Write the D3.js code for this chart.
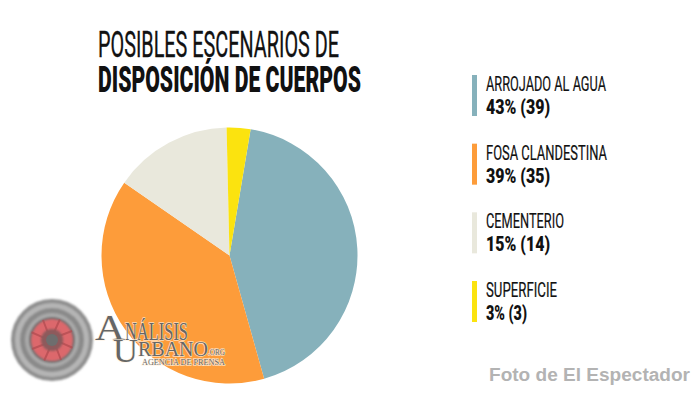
<!DOCTYPE html>
<html><head><meta charset="utf-8">
<script src="https://cdn.jsdelivr.net/npm/d3@7"></script>
<style>html,body{margin:0;background:#fff}svg{display:block}</style></head><body>
<svg id="c" width="700" height="393"></svg>
<script>
const categories=["ARROJADO AL AGUA","FOSA CLANDESTINA","CEMENTERIO","SUPERFICIE"];
const percents=[43,39,15,3];
const valueLabels=["43% (39)","39% (35)","15% (14)","3% (3)"];
const colors=["#86b1bb","#fd9c3a","#e9e8dc","#fbe30f"];
const titleLines=["POSIBLES ESCENARIOS DE","DISPOSICIÓN DE CUERPOS"];
const credit="Foto de El Espectador";

const svg=d3.select("#c");
const font="Roboto, 'Liberation Sans', sans-serif";
function fit(x,y,t,w,size,weight,fill,fam){
  return svg.append("text").attr("x",x).attr("y",y).text(t)
   .attr("font-family",fam||font).attr("font-size",size).attr("font-weight",weight||400)
   .attr("fill",fill||"#111").attr("textLength",w).attr("lengthAdjust","spacingAndGlyphs");
}
const defs=svg.append("defs");
defs.append("filter").attr("id","soft").append("feGaussianBlur").attr("stdDeviation",0.8);
// pie
const start=9.5*Math.PI/180;
const pie=d3.pie().sort(null).startAngle(start).endAngle(start+2*Math.PI);
const arc=d3.arc().innerRadius(0).outerRadius(128);
svg.append("g").attr("transform","translate(229.5,255.5)")
  .selectAll("path").data(pie(percents)).join("path")
  .attr("d",arc).attr("fill",(d,i)=>colors[i]);
// title
fit(98,57,titleLines[0],241,37,400).attr("stroke","#111").attr("stroke-width",.35);
fit(98,92,titleLines[1],263,37,900);
// legend
const rowY=d3.scalePoint().domain(categories).range([75,281]);
categories.forEach((c,i)=>{
  svg.append("rect").attr("x",472).attr("y",rowY(c)).attr("width",5).attr("height",41).attr("fill",colors[i]);
});
const nameW=[120,121,78,71], valW=[64,64,64,41];
categories.forEach((c,i)=>{
  const y=rowY(c);
  fit(486,y+16,c,nameW[i],21,400).attr("stroke","#111").attr("stroke-width",.2);
  fit(486,y+39,valueLabels[i],valW[i],21,900);
});
// credit
fit(489,381,credit,201,18,700,"#b3b3b3","'Liberation Sans', sans-serif");
// logo
const logo=svg.append("g").attr("transform","translate(52,340)");
const rings=[[41,"#8f8f8f"],[37,"#b5b5b5"],[32,"#8a8a8a"],[27,"#a9a9a9"],[23,"#6f6f6f"]];
logo.append("g").attr("filter","url(#soft)").selectAll("circle").data(rings).join("circle")
  .attr("r",d=>d[0]).attr("fill",d=>d[1]);
logo.append("circle").attr("r",21).attr("fill","#dc686c").attr("filter","url(#soft)");
logo.append("g").selectAll("line").data(d3.range(0,360,45)).join("line")
  .attr("x1",7).attr("y1",-4).attr("x2",20).attr("y2",-9)
  .attr("transform",d=>`rotate(${d})`).attr("stroke","#b04a4f").attr("stroke-width",2).attr("opacity",.7);
logo.append("circle").attr("r",11).attr("fill","#8d5a5c").attr("filter","url(#soft)");
logo.append("circle").attr("r",6).attr("fill","#6e6e6e");
const ser="'Liberation Serif', serif";
function mark(x,y,t,w,s){
  fit(x,y,t,w,s,400,"#666",ser).attr("stroke","#fff3e4").attr("stroke-opacity",.75)
   .attr("stroke-width",1.6).attr("paint-order","stroke");
}
mark(95,340,"A",30,35);
mark(125,340,"NÁLISIS",63,26);
mark(113,362,"U",25,33);
mark(138,356,"RBANO",70,22);
mark(208,355,".ORG",17,8);
mark(142,365,"AGENCIA DE PRENSA",83,9);
</script></body></html>
